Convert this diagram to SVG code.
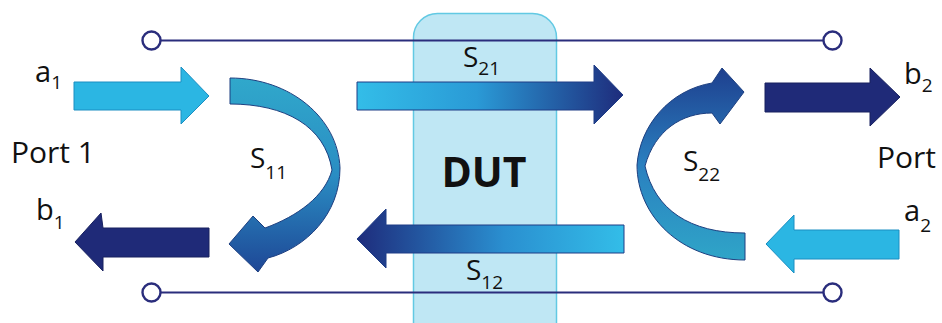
<svg xmlns="http://www.w3.org/2000/svg" width="942" height="323" viewBox="0 0 942 323">
<defs>
<style>
.lbl{font-family:"Open Sans","Liberation Sans",sans-serif;fill:#111;}
.main{font-size:29px;}
.sub{font-size:19px;}
.s{font-size:28px;}
.wire{stroke:#2a2d7c;stroke-width:2.2;fill:none;}
.term{stroke:#2a2d7c;stroke-width:2.4;fill:#fff;}
.light{fill:#2bb6e3;stroke:#1a8ec2;stroke-width:1;}
.dark{fill:#1f2a78;stroke:#18215f;stroke-width:1;}
.rib{stroke:#1d3f80;stroke-width:1;}
</style>
<linearGradient id="gS21" gradientUnits="userSpaceOnUse" x1="357" y1="0" x2="623" y2="0">
<stop offset="0" stop-color="#33bde8"/><stop offset="0.45" stop-color="#2a9ad6"/><stop offset="1" stop-color="#1e2c7c"/>
</linearGradient>
<linearGradient id="gS12" gradientUnits="userSpaceOnUse" x1="357" y1="0" x2="624" y2="0">
<stop offset="0" stop-color="#1e2c7c"/><stop offset="0.55" stop-color="#2a8fd0"/><stop offset="1" stop-color="#33bde8"/>
</linearGradient>
<linearGradient id="gS11" gradientUnits="userSpaceOnUse" x1="0" y1="78" x2="0" y2="272">
<stop offset="0" stop-color="#30a8cb"/><stop offset="0.5" stop-color="#2a8dc3"/><stop offset="1" stop-color="#1e4796"/>
</linearGradient>
<linearGradient id="gS22" gradientUnits="userSpaceOnUse" x1="0" y1="68" x2="0" y2="260">
<stop offset="0" stop-color="#1e3f8e"/><stop offset="0.5" stop-color="#2a7fbf"/><stop offset="1" stop-color="#2fa5c8"/>
</linearGradient>
</defs>
<rect width="942" height="323" fill="#ffffff"/>

<g id="DUT">
<rect x="413.5" y="13.5" width="143" height="340" rx="24" fill="#bfe7f4" stroke="#62c9e3" stroke-width="1.5"/>
<text class="lbl" x="484" y="187" text-anchor="middle" font-size="41" font-weight="bold">DUT</text>
</g>

<g id="connectors">
<g id="top-wire">
<line class="wire" x1="161" y1="40.5" x2="823" y2="40.5"/>
<circle class="term" cx="151.5" cy="40.5" r="9"/>
<circle class="term" cx="832.5" cy="40.5" r="9"/>
</g>
<g id="bottom-wire">
<line class="wire" x1="161" y1="292.5" x2="823" y2="292.5"/>
<circle class="term" cx="151.5" cy="292.5" r="9"/>
<circle class="term" cx="832.5" cy="292.5" r="9"/>
</g>
</g>

<g id="a1">
<polygon class="light" points="74,82 181,82 181,67 209,96 181,124 181,110 74,110"/>
<text class="lbl main" x="35" y="82">a<tspan class="sub" dy="7">1</tspan></text>
</g>

<g id="b1">
<polygon class="dark" points="209,228 103,228 101,213 75,242 103,271 103,257 209,257"/>
<text class="lbl main" x="36" y="220">b<tspan class="sub" dy="9">1</tspan></text>
</g>

<g id="port1">
<text class="lbl" x="11" y="163" font-size="30">Port 1</text>
</g>

<g id="S11">
<path class="rib" fill="url(#gS11)" d="M230,78 C290,78 338,118 340,168 C340,214 306,248 268,258 L258,272 L229,244 L253,216 L265,228 C298,216 325,196 332,170 C325,126 285,104 230,104 Z"/>
<text class="lbl s" x="250" y="168">S<tspan class="sub" dy="11">11</tspan></text>
</g>

<g id="S21">
<polygon fill="url(#gS21)" stroke="#1e3c86" stroke-width="1" points="357,82 594,82 594,65 623,95 594,124 594,110 357,110"/>
<text class="lbl s" x="463" y="67">S<tspan class="sub" dy="8">21</tspan></text>
</g>

<g id="S12">
<polygon fill="url(#gS12)" stroke="#1e3c86" stroke-width="1" points="624,225 386,225 386,209 357,239 386,268 386,253 624,253"/>
<text class="lbl s" x="466" y="280">S<tspan class="sub" dy="9">12</tspan></text>
</g>

<g id="S22">
<path class="rib" fill="url(#gS22)" d="M745,233 C690,233 655,210 645,166 C655,130 682,113 712,113 L720,124 L744,92 L722,68 L712,83 C670,90 640,125 637,165 C637,215 680,260 745,260 Z"/>
<text class="lbl s" x="683" y="171">S<tspan class="sub" dy="10">22</tspan></text>
</g>

<g id="b2">
<polygon class="dark" points="765,83 870,83 870,68 900,97 870,126 870,112 765,112"/>
<text class="lbl main" x="904" y="84">b<tspan class="sub" dy="8">2</tspan></text>
</g>

<g id="port2">
<text class="lbl" x="877" y="168" font-size="30">Port</text>
</g>

<g id="a2">
<polygon class="light" points="899,230 794,230 794,215 766,244 794,273 794,259 899,259"/>
<text class="lbl main" x="904" y="221">a<tspan class="sub" dy="11">2</tspan></text>
</g>
</svg>
